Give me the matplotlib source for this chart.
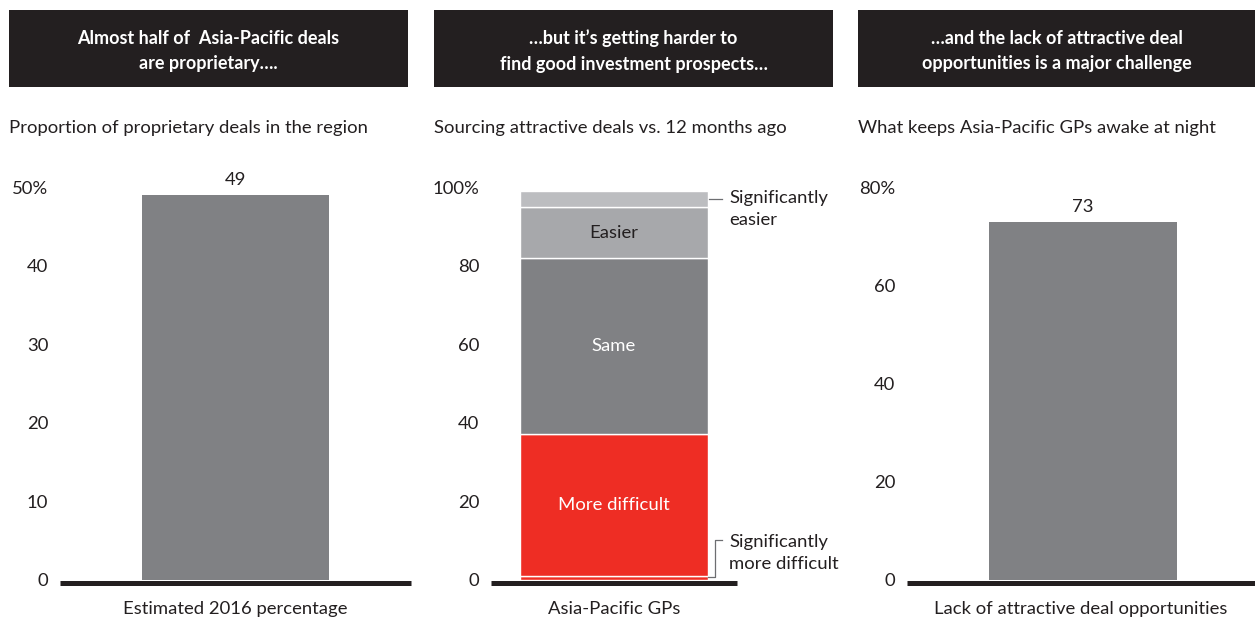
import matplotlib.pyplot as plt
from matplotlib.patches import Rectangle

# panel 1
p1_cat = ["Estimated 2016 percentage"]
p1_val = [49]
p1_ticks = [0, 10, 20, 30, 40, 50]
p1_ticklabels = ["0", "10", "20", "30", "40", "50%"]

# panel 2 (stacked, bottom to top)
p2_cat = ["Asia-Pacific GPs"]
p2_segments = ["Significantly more difficult", "More difficult", "Same", "Easier", "Significantly easier"]
p2_val = [1, 36, 45, 13, 4]
p2_ticks = [0, 20, 40, 60, 80, 100]
p2_ticklabels = ["0", "20", "40", "60", "80", "100%"]

# panel 3
p3_cat = ["Lack of attractive deal opportunities"]
p3_val = [73]
p3_ticks = [0, 20, 40, 60, 80]
p3_ticklabels = ["0", "20", "40", "60", "80%"]

headers = ["Almost half of  Asia-Pacific deals\nare proprietary\u2026.",
           "\u2026but it\u2019s getting harder to\nfind good investment prospects\u2026",
           "\u2026and the lack of attractive deal\nopportunities is a major challenge"]
subtitles = ["Proportion of proprietary deals in the region",
             "Sourcing attractive deals vs. 12 months ago",
             "What keeps Asia-Pacific GPs awake at night"]

GREY = "#808184"
RED = "#EE2D24"
LIGHT = "#A7A8AB"
LIGHTER = "#BCBDC0"
DARK = "#231F20"
FS = 13.3

plt.rcParams['font.family'] = ['Lato', 'DejaVu Sans']

W, H = 1255, 619
fig = plt.figure(figsize=(W / 100, H / 100), dpi=100)

def fx(px):
    return px / W

def fy(py):
    return 1 - py / H

# header boxes and subtitles
box_x = [(9, 408), (434, 833), (858, 1255)]
for (x0, x1), head, sub in zip(box_x, headers, subtitles):
    fig.add_artist(Rectangle((fx(x0), fy(87)), fx(x1 - x0), (87 - 10) / H,
                             transform=fig.transFigure, color=DARK, lw=0))
    fig.text(fx((x0 + x1) / 2), fy(51), head, ha="center", va="center", color="white",
             fontsize=13, fontweight="bold", linespacing=1.6)
    fig.text(fx(x0), fy(128), sub, ha="left", va="center", color=DARK, fontsize=FS)

y_bottom, y_top = 579.5, 187.5

def make_axes(x0, x1, xlim, ticks, ticklabels, xlab):
    ax = fig.add_axes([fx(x0), fy(y_bottom), fx(x1 - x0), (y_bottom - y_top) / H])
    ax.set_xlim(*xlim)
    ax.set_ylim(ticks[0], ticks[-1])
    ax.set_yticks(ticks)
    ax.set_yticklabels(ticklabels)
    ax.set_xticks([])
    for s in ["top", "right", "left"]:
        ax.spines[s].set_visible(False)
    ax.spines["bottom"].set_linewidth(3.6)
    ax.spines["bottom"].set_color(DARK)
    ax.spines["bottom"].set_position(("outward", 2.2))
    ax.spines["bottom"].set_capstyle("butt")
    ax.tick_params(axis="y", length=0, pad=8.5, labelsize=FS, labelcolor=DARK)
    ax.set_xlabel(xlab, fontsize=FS, color=DARK, labelpad=13)
    ax.patch.set_alpha(0)
    return ax

# panel 1
ax1 = make_axes(60, 411, (-0.9385, 0.9385), p1_ticks, p1_ticklabels, p1_cat[0])
b = ax1.bar(0, p1_val[0], width=1, color=GREY)
ax1.bar_label(b, labels=[str(v) for v in p1_val], padding=5, fontsize=FS, color=DARK)

# panel 2
ax2 = make_axes(491, 737, (-0.654, 0.654), p2_ticks, p2_ticklabels, p2_cat[0])
colors = [RED, RED, GREY, LIGHT, LIGHTER]
bottom = 0
mids = []
for v, c in zip(p2_val, colors):
    ax2.bar(0, v, bottom=bottom, width=1, color=c, edgecolor="white", linewidth=1)
    mids.append(bottom + v / 2)
    bottom += v
ax2.text(0, mids[1], "More difficult", ha="center", va="center", color="white", fontsize=FS)
ax2.text(0, mids[2], "Same", ha="center", va="center", color="white", fontsize=FS)
ax2.text(0, mids[3], "Easier", ha="center", va="center", color=DARK, fontsize=FS)

# leader lines for the thin segments
u = 1 / 188
ax2.plot([0.5 + 1 * u, 0.5 + 14 * u], [mids[4], mids[4]], color="#6D6E71", lw=0.9, clip_on=False)
ax2.text(0.5 + 21 * u, mids[4] + 2.4, "Significantly\neasier", ha="left", va="top", color=DARK,
         fontsize=FS, linespacing=1.45)
ax2.plot([0.5, 0.5 + 7 * u, 0.5 + 7 * u, 0.5 + 14 * u], [0.6, 0.6, 10, 10],
         color="#6D6E71", lw=0.9, clip_on=False)
ax2.text(0.5 + 21 * u, 10 + 1.6, "Significantly\nmore difficult", ha="left", va="top", color=DARK,
         fontsize=FS, linespacing=1.45)

# panel 3
ax3 = make_axes(907, 1255, (-0.936, 0.915), p3_ticks, p3_ticklabels, p3_cat[0])
b = ax3.bar(0, p3_val[0], width=1, color=GREY)
ax3.bar_label(b, labels=[str(v) for v in p3_val], padding=5, fontsize=FS, color=DARK)

fig.savefig("out.png", dpi=100)
